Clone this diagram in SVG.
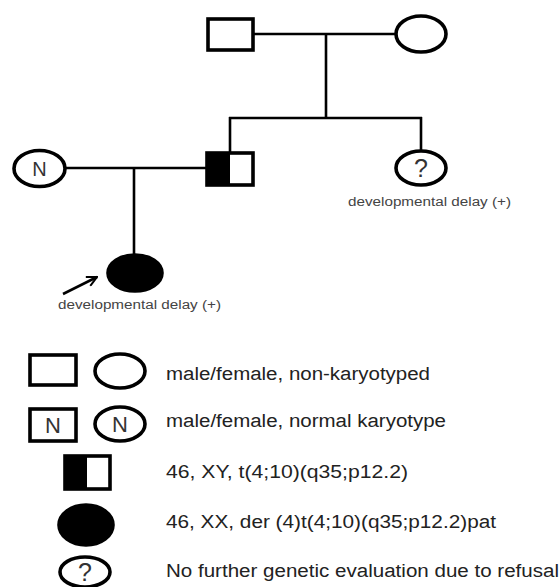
<svg xmlns="http://www.w3.org/2000/svg" width="560" height="587" viewBox="0 0 560 587">
<style>
.sym{fill:#fff;stroke:#000;stroke-width:3.6}
.blk{fill:#000;stroke:#000;stroke-width:3.6}
.ln{stroke:#000;stroke-width:2.6;fill:none}
.lg{font-family:"Liberation Sans",Arial,sans-serif;font-size:18px;fill:#222}
.lb{font-family:"Liberation Sans",Arial,sans-serif;font-size:12px;fill:#444}
.n{font-family:"Liberation Sans",Arial,sans-serif;fill:#333;text-anchor:middle}
</style>
<defs>
<marker id="ah" viewBox="0 0 12 12" refX="11" refY="6" markerWidth="12" markerHeight="12" markerUnits="userSpaceOnUse" orient="auto">
<path d="M1,1 L11,6 L1,11" fill="none" stroke="#000" stroke-width="2"/>
</marker>
</defs>
<g id="connectors">
<line class="ln" x1="253" y1="34" x2="396" y2="34"/>
<line class="ln" x1="326" y1="34" x2="326" y2="118"/>
<line class="ln" x1="229" y1="118" x2="422" y2="118"/>
<line class="ln" x1="230" y1="117" x2="230" y2="153"/>
<line class="ln" x1="421" y1="117" x2="421" y2="151"/>
<line class="ln" x1="65" y1="168" x2="207" y2="168"/>
<line class="ln" x1="134" y1="168" x2="134" y2="255"/>
<line class="ln" x1="63" y1="294" x2="97" y2="277" marker-end="url(#ah)"/>
</g>
<g id="grandfather"><rect class="sym" x="208" y="19" width="45" height="31"/></g>
<g id="grandmother"><ellipse class="sym" cx="421" cy="34" rx="25" ry="18"/></g>
<g id="mother"><ellipse class="sym" cx="39.5" cy="168.5" rx="25.5" ry="18"/><text class="n" x="39.5" y="175.5" font-size="20">N</text></g>
<g id="father"><rect class="sym" x="207" y="153" width="46" height="32"/><rect x="207" y="153" width="23" height="32" fill="#000"/></g>
<g id="aunt"><ellipse class="sym" cx="421" cy="168" rx="25" ry="17"/><text class="n" x="421" y="177" font-size="25">?</text></g>
<text class="lb" x="348" y="206" textLength="163" lengthAdjust="spacingAndGlyphs">developmental delay (+)</text>
<g id="proband"><ellipse class="blk" cx="135" cy="273" rx="27" ry="18"/></g>
<text class="lb" x="58" y="309" textLength="163" lengthAdjust="spacingAndGlyphs">developmental delay (+)</text>
<g id="legend">
<rect class="sym" x="30" y="355" width="46" height="30"/>
<ellipse class="sym" cx="120" cy="371" rx="25" ry="17"/>
<text class="lg" x="166" y="380" textLength="264" lengthAdjust="spacingAndGlyphs">male/female, non-karyotyped</text>
<rect class="sym" x="30" y="409" width="46" height="32"/>
<text class="n" x="53" y="433" font-size="22">N</text>
<ellipse class="sym" cx="120" cy="424" rx="25" ry="17"/>
<text class="n" x="120" y="432" font-size="22">N</text>
<text class="lg" x="166" y="427" textLength="280" lengthAdjust="spacingAndGlyphs">male/female, normal karyotype</text>
<rect class="sym" x="65" y="456" width="45" height="33"/>
<rect x="65" y="456" width="22" height="33" fill="#000"/>
<text class="lg" x="166" y="478" textLength="242" lengthAdjust="spacingAndGlyphs">46, XY, t(4;10)(q35;p12.2)</text>
<ellipse class="blk" cx="86" cy="525" rx="27" ry="20"/>
<text class="lg" x="166" y="528" textLength="330" lengthAdjust="spacingAndGlyphs">46, XX, der (4)t(4;10)(q35;p12.2)pat</text>
<ellipse class="sym" cx="85" cy="572" rx="25" ry="15"/>
<text class="n" x="85" y="581" font-size="25">?</text>
<text class="lg" x="166" y="577" textLength="393" lengthAdjust="spacingAndGlyphs">No further genetic evaluation due to refusal</text>
</g>
</svg>
